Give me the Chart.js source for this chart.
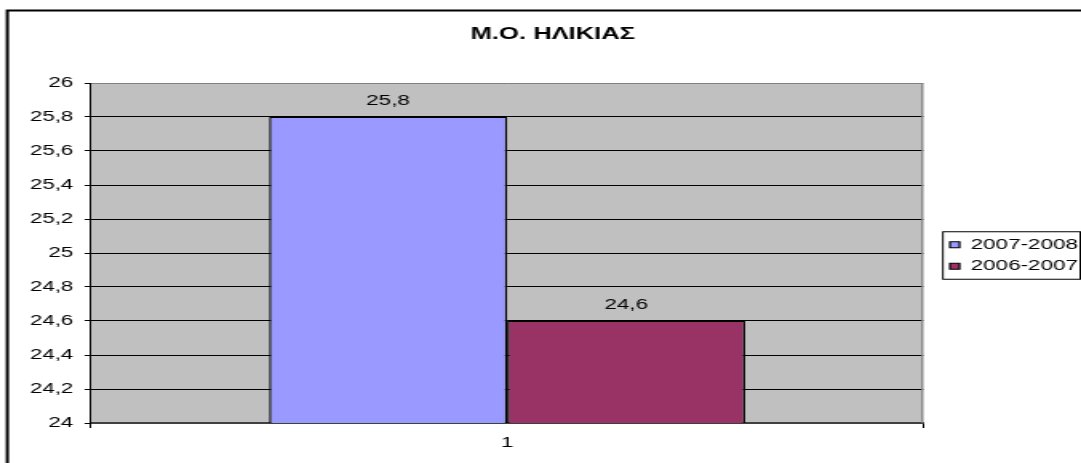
<!DOCTYPE html>
<html>
<head>
<meta charset="utf-8">
<script src="https://cdn.jsdelivr.net/npm/chart.js@4"></script>
<style>
  html, body { margin: 0; padding: 0; background: #fff; overflow: hidden; }
  #graph { display: block; }
</style>
</head>
<body>
<!-- the reference is stretched sideways, so draw narrow and let css widen it -->
<canvas id="graph" width="676" height="463" style="width:1081px;height:463px"></canvas>
<script>
const chartTitle = "Μ.Ο. ΗΛΙΚΙΑΣ";
const categories = ["1"];
const seriesNames = ["2007-2008", "2006-2007"];
const values0708 = [25.8];
const values0607 = [24.6];
const yMin = 24, yMax = 26, yStep = 0.2;

const FONT = "'Liberation Sans', Arial, sans-serif";
Chart.defaults.font.family = FONT;
Chart.defaults.font.size = 14;
Chart.defaults.color = "#000";

// greek style numbers: 25,8
function fmt(v) {
    return parseFloat(v.toFixed(1)).toString().replace(".", ",");
}

const excelLook = {
    id: "excelLook",
    beforeDraw(chart) {
        const ctx = chart.ctx, a = chart.chartArea;
        ctx.save();
        // outer chart frame, runs off the right and bottom
        ctx.strokeStyle = "#000";
        ctx.lineWidth = 2;
        ctx.strokeRect(4.6, 10.5, 1000, 1000);
        // plot area fill
        ctx.fillStyle = "#c0c0c0";
        ctx.fillRect(a.left, a.top, a.right - a.left, a.bottom - a.top);
        ctx.restore();
    },
    afterDatasetsDraw(chart) {
        const ctx = chart.ctx;
        ctx.save();
        ctx.font = "14px " + FONT;
        ctx.fillStyle = "#000";
        ctx.textAlign = "center";
        ctx.textBaseline = "middle";
        chart.data.datasets.forEach((ds, i) => {
            chart.getDatasetMeta(i).data.forEach((bar, j) => {
                ctx.fillText(fmt(ds.data[j]), bar.x, bar.y - 16);
            });
        });
        ctx.restore();
    },
    afterDraw(chart) {
        const ctx = chart.ctx, a = chart.chartArea;
        ctx.save();
        // right edge of plot area
        ctx.strokeStyle = "#808080";
        ctx.lineWidth = 1.2;
        ctx.beginPath();
        ctx.moveTo(a.right - 0.6, a.top);
        ctx.lineTo(a.right - 0.6, a.bottom);
        ctx.stroke();
        // legend frame
        const hb = chart.legend.legendHitBoxes;
        if (hb && hb.length) {
            const first = hb[0], last = hb[hb.length - 1];
            let r = 0;
            hb.forEach(b => { r = Math.max(r, b.left + b.width); });
            ctx.strokeStyle = "#000";
            ctx.lineWidth = 1;
            ctx.strokeRect(first.left - 4.4, first.top - 6, r + 1.5 - (first.left - 4.4), last.top + last.height + 6 - (first.top - 6));
        }
        ctx.restore();
    }
};

const barBorder = { top: 1, bottom: 1, left: 1.4, right: 1.4 };

const ctx = document.getElementById("graph").getContext("2d");
new Chart(ctx, {
    type: "bar",
    data: {
        labels: categories,
        datasets: [{
            label: seriesNames[0],
            data: values0708,
            backgroundColor: "#9999ff",
            borderColor: "#000",
            borderWidth: barBorder,
            borderSkipped: false
        },
        {
            label: seriesNames[1],
            data: values0607,
            backgroundColor: "#993366",
            borderColor: "#000",
            borderWidth: barBorder,
            borderSkipped: false
        }]
    },
    options: {
        responsive: false,
        animation: false,
        devicePixelRatio: 1,
        layout: { padding: { left: 7.5, right: -8, top: 0, bottom: 0 } },
        datasets: { bar: { categoryPercentage: 0.572, barPercentage: 1 } },
        plugins: {
            title: {
                display: true,
                text: chartTitle,
                color: "#000",
                font: { size: 16, weight: "bold" },
                padding: { top: 25, bottom: 38.8 }
            },
            legend: {
                position: "right",
                align: "center",
                // empty title only pushes the items down a bit
                title: { display: true, text: "", font: { size: 14 }, padding: { top: 0, bottom: 31.2 } },
                labels: { boxWidth: 6, boxHeight: 6, padding: 7.5, color: "#000", font: { size: 14 } }
            },
            tooltip: { enabled: false }
        },
        scales: {
            x: {
                grid: { display: true, drawOnChartArea: false, color: "#000", tickLength: 5, offset: true },
                border: { color: "#404040", width: 2 },
                ticks: { padding: 7, color: "#000" },
                afterFit: s => { s.height = 40; }
            },
            y: {
                min: yMin,
                max: yMax,
                ticks: { stepSize: yStep, padding: 7, color: "#000", callback: v => fmt(v) },
                grid: {
                    color: c => (c.tick && c.tick.value >= yMax - 0.001) ? "#808080" : "#000",
                    tickColor: "#000",
                    tickLength: 4,
                    lineWidth: 1
                },
                border: { color: "#000", width: 1 },
                afterFit: s => { s.width = 49.4; }
            },
            // empty spacer between plot area and legend
            gap: {
                axis: "y",
                position: "right",
                display: true,
                grid: { display: false },
                border: { display: false },
                ticks: { display: false },
                afterFit: s => { s.width = 9.2; }
            }
        }
    },
    plugins: [excelLook]
});
</script>
</body>
</html>
